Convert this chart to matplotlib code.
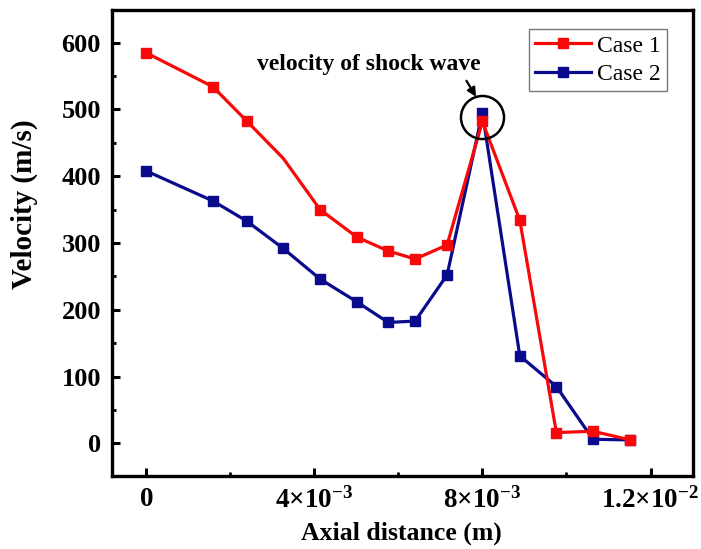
import matplotlib
matplotlib.use("Agg")
import matplotlib.pyplot as plt
import numpy as np
from matplotlib.ticker import MultipleLocator, FixedLocator

plt.rcParams['font.family'] = ['Liberation Serif', 'DejaVu Serif']
plt.rcParams['mathtext.fontset'] = 'custom'
plt.rcParams['mathtext.rm'] = 'Liberation Serif:bold'
plt.rcParams['mathtext.bf'] = 'Liberation Serif:bold'
plt.rcParams['mathtext.it'] = 'Liberation Serif:bold'

# Data (axial distance in m, velocity in m/s)
x_case1 = [0.0, 1.59e-3, 2.39e-3, 3.26e-3, 4.14e-3, 5.01e-3, 5.76e-3, 6.40e-3,
           7.16e-3, 8.0e-3, 8.89e-3, 9.76e-3, 10.63e-3, 11.52e-3]
v_case1 = [585, 534, 483, 427, 350, 309, 288, 276, 297, 482, 334, 16, 18, 5]
x_case2 = [0.0, 1.59e-3, 2.39e-3, 3.26e-3, 4.14e-3, 5.01e-3, 5.76e-3, 6.40e-3,
           7.16e-3, 8.0e-3, 8.89e-3, 9.76e-3, 10.63e-3, 11.52e-3]
v_case2 = [408, 363, 333, 292, 246, 212, 181, 183, 252, 495, 131, 85, 6, 5]

xtick_values = [0.0, 4e-3, 8e-3, 1.2e-2]
xtick_labels = [r'$0$', r'$4{\times}10^{-3}$', r'$8{\times}10^{-3}$', r'$1.2{\times}10^{-2}$']
ytick_values = [0, 100, 200, 300, 400, 500, 600]

red = '#F80808'
blue = '#0A0A8C'

fig = plt.figure(figsize=(7.01, 5.49), dpi=100)
ax = fig.add_axes([0.1598, 0.133, 0.988 - 0.1598, 0.9818 - 0.133])

case1_markers = [i for i in range(len(x_case1)) if i != 3]
ax.plot(x_case1, v_case1, color=red, lw=2.3, marker='s', ms=7.5,
        markevery=case1_markers, label='Case 1', zorder=3)
ax.plot(x_case2, v_case2, color=blue, lw=2.3, marker='s', ms=7.5,
        label='Case 2', zorder=2)

ax.set_xlim(-0.81e-3, 13.0e-3)
ax.set_ylim(-49, 649)

ax.xaxis.set_major_locator(FixedLocator(xtick_values))
ax.set_xticklabels(xtick_labels)
ax.xaxis.set_minor_locator(FixedLocator([2e-3, 6e-3, 10e-3]))
ax.yaxis.set_major_locator(FixedLocator(ytick_values))
ax.yaxis.set_minor_locator(MultipleLocator(50))

for s in ax.spines.values():
    s.set_linewidth(2.4)
ax.tick_params(which='major', direction='in', length=6, width=2.2,
               pad=8, top=False, right=False)
ax.tick_params(which='minor', direction='in', length=3, width=2.0,
               top=False, right=False)
ax.tick_params(axis='y', labelsize=19, pad=8)
for lab in ax.get_yticklabels():
    lab.set_fontweight('bold')
ax.tick_params(axis='x', labelsize=19.5, pad=8)

ax.set_xlabel('Axial distance (m)', fontsize=18.5, fontweight='bold')
ax.xaxis.set_label_coords(0.4985, -0.097)
ax.set_ylabel('Velocity (m/s)', fontsize=21, fontweight='bold')
ax.yaxis.set_label_coords(-0.127, 0.584)

# shock wave highlight
i_peak = int(np.argmax(v_case2))
peak_x = x_case2[i_peak]
peak_y = (v_case1[i_peak] + v_case2[i_peak]) / 2
ax.plot([peak_x], [peak_y], marker='o', ms=31, mfc='none', mec='black',
        mew=1.8, zorder=4)
ax.text(5.30e-3, 568, 'velocity of shock wave', ha='center', va='center',
        fontsize=17, fontweight='bold', zorder=5)
ax.annotate('', xy=(7.85e-3, 519), xytext=(7.62e-3, 543),
            arrowprops=dict(arrowstyle='-|>', color='black', lw=1.6,
                            mutation_scale=13, shrinkA=0, shrinkB=0),
            zorder=5)

leg = ax.legend(loc='upper right', bbox_to_anchor=(0.956, 0.959),
                borderaxespad=0, fontsize=17, frameon=True, fancybox=False,
                handlelength=2.4, handletextpad=0.25, borderpad=0.25,
                labelspacing=0.3)
leg.get_frame().set_edgecolor('#555555')
leg.get_frame().set_linewidth(1.0)

fig.savefig('out.png', dpi=100)
